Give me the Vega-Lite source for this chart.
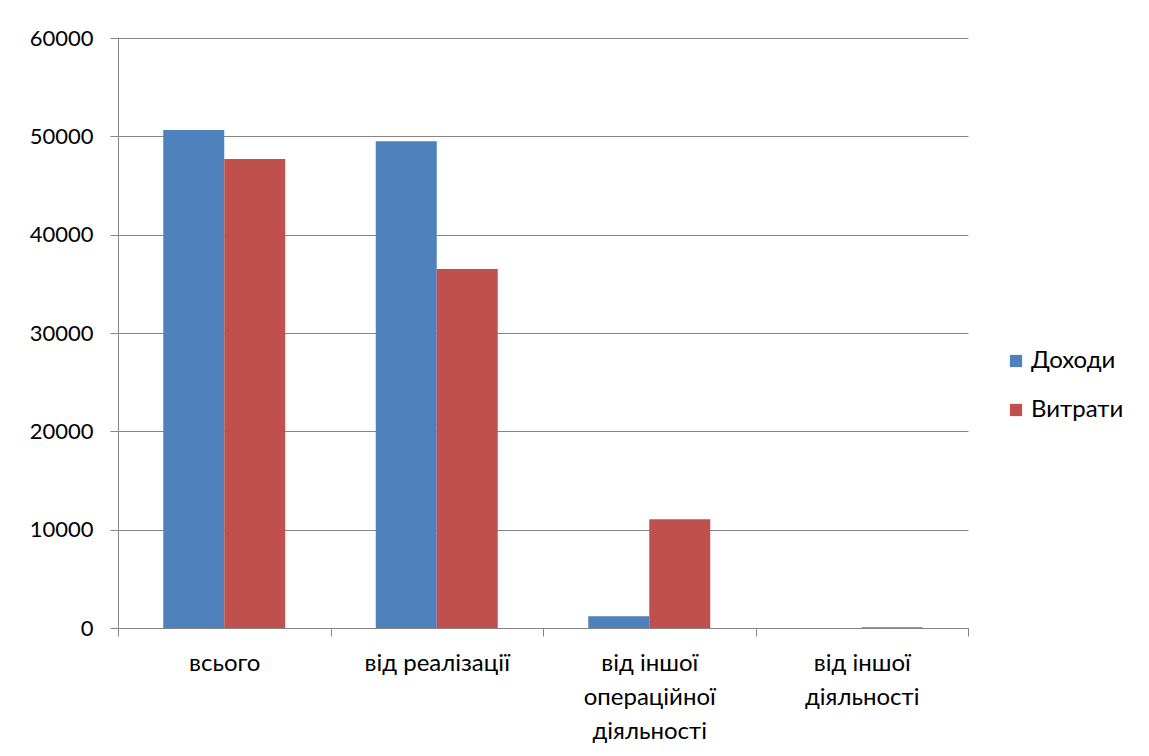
{
  "$schema": "https://vega.github.io/schema/vega-lite/v6.json",
  "width": 850,
  "height": 590,
  "autosize": {"type": "none"},
  "padding": {"left": 118, "top": 38, "right": 181, "bottom": 128},
  "background": "white",
  "data": {
    "values": [
      {"category": "всього", "series": "Доходи", "value": 50650},
      {"category": "всього", "series": "Витрати", "value": 47700},
      {"category": "від реалізації", "series": "Доходи", "value": 49500},
      {"category": "від реалізації", "series": "Витрати", "value": 36500},
      {"category": "від іншої|операційної|діяльності", "series": "Доходи", "value": 1200},
      {"category": "від іншої|операційної|діяльності", "series": "Витрати", "value": 11050},
      {"category": "від іншої|діяльності", "series": "Доходи", "value": 0},
      {"category": "від іншої|діяльності", "series": "Витрати", "value": 80}
    ]
  },
  "mark": {"type": "bar"},
  "encoding": {
    "x": {
      "field": "category",
      "type": "nominal",
      "sort": null,
      "scale": {"paddingInner": 0, "paddingOuter": 0},
      "axis": {
        "title": null,
        "labelAngle": 0,
        "labelExpr": "split(datum.label, '|')",
        "labelFont": "Lato",
        "labelFontSize": 24,
        "labelColor": "#000000",
        "labelLineHeight": 34,
        "labelPadding": 15,
        "labelBaseline": "top",
        "tickBand": "extent",
        "tickSize": 8,
        "tickColor": "#868686",
        "domainColor": "#868686",
        "grid": false
      }
    },
    "xOffset": {"field": "series", "type": "nominal", "sort": ["Доходи", "Витрати"], "scale": {"paddingInner": 0, "paddingOuter": 0.742}},
    "y": {
      "field": "value",
      "type": "quantitative",
      "scale": {"domain": [0, 60000], "nice": false},
      "axis": {
        "title": null,
        "values": [0, 10000, 20000, 30000, 40000, 50000, 60000],
        "format": "d",
        "labelFont": "Lato",
        "labelFontSize": 22,
        "labelColor": "#000000",
        "labelPadding": 17,
        "tickSize": 8,
        "tickColor": "#868686",
        "domainColor": "#868686",
        "grid": true,
        "gridColor": "#868686",
        "gridWidth": 1
      }
    },
    "color": {
      "field": "series",
      "type": "nominal",
      "sort": ["Доходи", "Витрати"],
      "scale": {"domain": ["Доходи", "Витрати"], "range": ["#4F81BD", "#C0504D"]},
      "legend": {
        "title": null,
        "orient": "none",
        "legendX": 886,
        "legendY": 311,
        "symbolType": "square",
        "symbolSize": 150,
        "symbolStrokeWidth": 0,
        "labelFont": "Lato",
        "labelFontSize": 24,
        "labelColor": "#000000",
        "labelOffset": 3,
        "rowPadding": 25
      }
    }
  },
  "config": {
    "view": {"stroke": null}
  }
}
